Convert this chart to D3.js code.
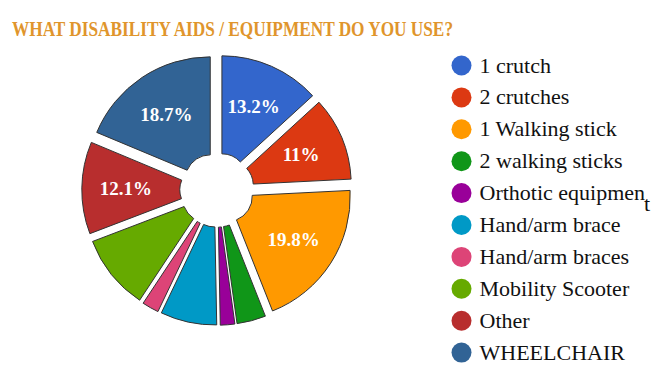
<!DOCTYPE html>
<html>
<head>
<meta charset="utf-8">
<script src="https://cdn.jsdelivr.net/npm/d3@7"></script>
<style>
  html, body { margin: 0; padding: 0; background: #ffffff; }
  svg { display: block; }
</style>
</head>
<body>
<svg id="chart" width="671" height="380"></svg>
<script>
// ---- data ----
const title = "WHAT DISABILITY AIDS / EQUIPMENT DO YOU USE?";
const categories = ["1 crutch", "2 crutches", "1 Walking stick", "2 walking sticks",
  "Orthotic equipment", "Hand/arm brace", "Hand/arm braces", "Mobility Scooter",
  "Other", "WHEELCHAIR"];
const values = [13.2, 11.0, 19.8, 3.8, 1.9, 7.4, 2.2, 9.9, 12.1, 18.7];
const colors = ["#3366cc", "#dc3912", "#ff9900", "#109618", "#990099",
  "#0099c6", "#dd4477", "#66aa00", "#b82e2e", "#316395"];
const labelThreshold = 10.5; // slices smaller than this show no text

// ---- pick an installed serif font ----
const svg = d3.select("#chart");
function measure(family) {
  const t = svg.append("text").attr("font-size", 40)
    .style("font-family", family).text("Orthotic equipment WHEELCHAIR 123%");
  const w = t.node().getComputedTextLength();
  t.remove();
  return w;
}
const wMono = measure("monospace"), wSans = measure("sans-serif");
const candidates = ["Liberation Serif", "DejaVu Serif", "Noto Serif", "Tinos", "Times New Roman", "serif"];
let SERIF = "serif";
for (const c of candidates) {
  const w = measure(`"${c}", monospace`);
  if (Math.abs(w - wMono) > 0.5 && Math.abs(w - wSans) > 0.5) { SERIF = `"${c}"`; break; }
}

const W = 671, H = 380;
svg.insert("rect", ":first-child").attr("width", W).attr("height", H).attr("fill", "#fff");

// Title
svg.append("text")
  .attr("x", 12).attr("y", 35.5)
  .attr("fill", "#e0952c")
  .attr("textLength", 441)
  .attr("lengthAdjust", "spacingAndGlyphs")
  .style("font-family", SERIF)
  .style("font-weight", "bold")
  .style("font-size", "22px")
  .text(title);

// Pie
const cx = 217, cy = 190, R = 123, r0 = 25, offset = 12.2, labelR = 79;
const total = d3.sum(values);
const pie = d3.pie().sort(null).value(d => d.v);
const arcs = pie(values.map((v, i) => ({ v, i })));
const arc = d3.arc().innerRadius(r0).outerRadius(R);

const g = svg.append("g").attr("transform", `translate(${cx},${cy})`);
const slices = g.selectAll("g.slice").data(arcs).join("g")
  .attr("class", "slice")
  .attr("transform", d => {
    const m = (d.startAngle + d.endAngle) / 2;
    return `translate(${Math.sin(m) * offset},${-Math.cos(m) * offset})`;
  });
slices.append("path")
  .attr("d", arc)
  .attr("fill", d => colors[d.data.i])
  .attr("stroke", "#333")
  .attr("stroke-width", 1)
  .attr("stroke-linejoin", "round");

const fmt = v => (Math.round(v * 10) / 10).toString() + "%";
slices.filter(d => d.data.v >= labelThreshold)
  .append("text")
  .attr("x", d => Math.sin((d.startAngle + d.endAngle) / 2) * labelR)
  .attr("y", d => -Math.cos((d.startAngle + d.endAngle) / 2) * labelR + 6.5)
  .attr("text-anchor", "middle")
  .attr("fill", "#fff")
  .style("font-family", SERIF)
  .style("font-weight", "bold")
  .style("font-size", "19px")
  .text(d => fmt(d.data.v / total * 100));

// Legend
const legX = 461.5, legY0 = 65.5, legStep = 31.9, textX = 479.5, maxTextW = 168.5;
const leg = svg.append("g");
const items = leg.selectAll("g").data(categories).join("g")
  .attr("transform", (d, i) => `translate(0,${legY0 + i * legStep})`);
items.append("circle")
  .attr("cx", legX).attr("cy", 0).attr("r", 10)
  .attr("fill", (d, i) => colors[i]);
items.each(function (d) {
  const t = d3.select(this).append("text")
    .attr("x", textX).attr("y", 7)
    .attr("fill", "#111")
    .style("font-family", SERIF)
    .style("font-size", "22px");
  t.text(d);
  if (t.node().getComputedTextLength() > maxTextW) {
    // overflow: remaining characters drop below, as in the original rendering
    let n = d.length;
    while (n > 1) {
      t.text(d.slice(0, n));
      if (t.node().getComputedTextLength() <= maxTextW) break;
      n--;
    }
    t.text(null);
    t.append("tspan").text(d.slice(0, n));
    t.append("tspan").attr("dy", 11).attr("dx", -1).text(d.slice(n));
  }
});
</script>
</body>
</html>
